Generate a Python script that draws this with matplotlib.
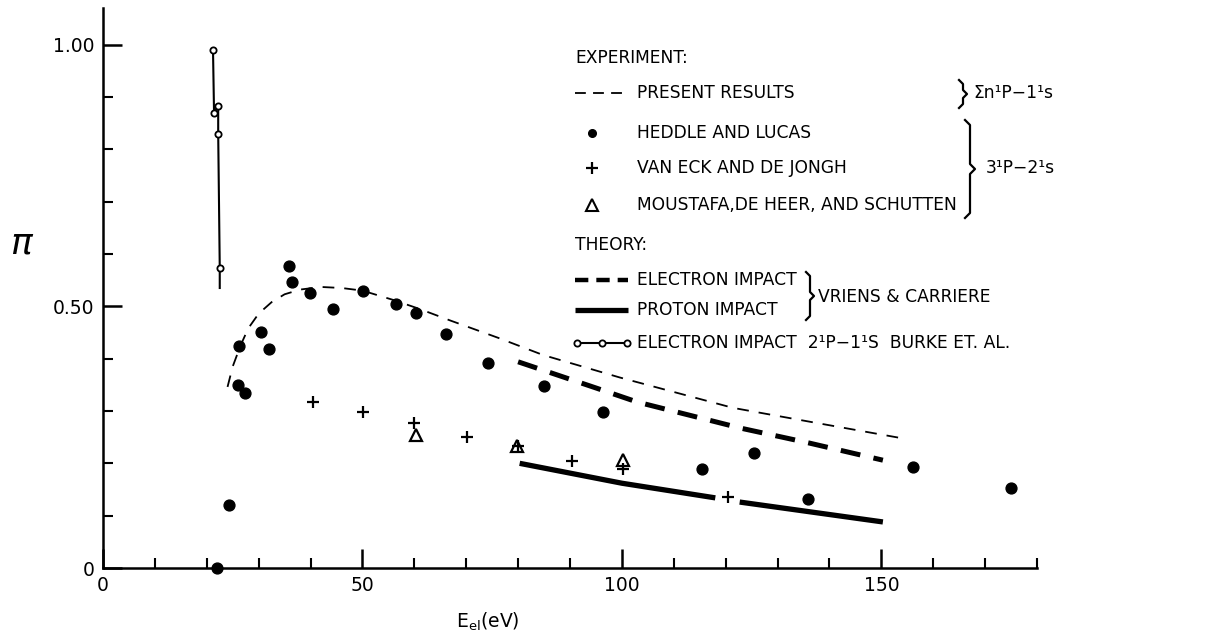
import matplotlib
matplotlib.use('Agg')
import matplotlib.pyplot as plt
import numpy as np

# --- data ---
# Heddle and Lucas (filled circles)
heddle_x = [22.0, 24.2, 26.0, 27.4, 26.2, 30.4, 31.9, 35.8, 36.4, 39.9, 44.3, 50.1, 56.4,
            60.3, 66.1, 74.2, 85.0, 96.3, 115.4, 125.4, 135.8, 156.1, 174.9]
heddle_y = [0.0, 0.12, 0.35, 0.335, 0.425, 0.451, 0.418, 0.577, 0.547, 0.526, 0.495, 0.53, 0.505,
            0.488, 0.447, 0.392, 0.348, 0.298, 0.19, 0.22, 0.132, 0.193, 0.153]

# Van Eck and de Jongh (crosses)
vaneck_x = [40.4, 50.1, 60.0, 70.1, 80.0, 90.4, 100.2, 120.4]
vaneck_y = [0.317, 0.298, 0.277, 0.25, 0.233, 0.205, 0.19, 0.136]

# Moustafa, de Heer and Schutten (open triangles)
moustafa_x = [60.3, 79.8, 100.2]
moustafa_y = [0.254, 0.233, 0.206]

# present results (thin dashed)
present_x = [24.0, 25.0, 26.5, 28.0, 30.0, 32.5, 35.0, 38.0, 42.0, 46.0, 50.0, 56.0, 61.0,
             66.9, 76.1, 84.8, 99.6, 121.4, 137.6, 154.5]
present_y = [0.346, 0.385, 0.425, 0.458, 0.486, 0.508, 0.523, 0.532, 0.537, 0.535, 0.53, 0.512,
             0.495, 0.473, 0.44, 0.407, 0.364, 0.306, 0.277, 0.247]

# theory: electron impact, Vriens & Carriere (thick dashed)
elec_x = [80.0, 95.0, 103.0, 123.0, 136.0, 150.3]
elec_y = [0.394, 0.344, 0.317, 0.267, 0.239, 0.206]

# theory: proton impact, Vriens & Carriere (thick solid, broken at the cross)
prot_x = [80.3, 100.0, 118.0, np.nan, 122.7, 150.3]
prot_y = [0.2, 0.162, 0.134, np.nan, 0.126, 0.088]

# theory: electron impact 2'P-1'S, Burke et al.
burke_x = [21.2, 21.4, 22.2, 22.2, 22.5]
burke_y = [0.99, 0.87, 0.883, 0.83, 0.574]
burke_tail_y = 0.535

W, H = 1217, 641
fig = plt.figure(figsize=(W / 100, H / 100), dpi=100)
ax = fig.add_axes([103 / W, 73 / H, 934 / W, 560 / H])

ax.plot(present_x, present_y, color='k', lw=1.3, dashes=(6.5, 5.5))
ax.plot(elec_x, elec_y, color='k', lw=3.6, dashes=(4, 2.7))
ax.plot(prot_x, prot_y, color='k', lw=3.8, solid_capstyle='butt')
ax.plot(burke_x + [burke_x[-1]], burke_y + [burke_tail_y], color='k', lw=1.5)
ax.plot(burke_x, burke_y, 'o', color='k', mfc='white', ms=4.5, mew=1.3)
ax.plot(heddle_x, heddle_y, 'o', color='k', ms=7.8, clip_on=False)
ax.plot(vaneck_x, vaneck_y, '+', color='k', ms=8, mew=1.6)
ax.plot(moustafa_x, moustafa_y, '^', color='k', mfc='none', ms=9, mew=1.6)

ax.set_xlim(0, 180)
ax.set_ylim(0, 1.07)
for s in ['top', 'right']:
    ax.spines[s].set_visible(False)
for s in ['left', 'bottom']:
    ax.spines[s].set_linewidth(1.8)

ax.set_xticks([0, 50, 100, 150])
ax.set_xticks(np.arange(0, 181, 10), minor=True)
ax.set_yticks([0, 0.5, 1.0])
ax.set_yticklabels(['0', '0.50', '1.00'])
ax.set_yticks(np.arange(0, 1.01, 0.1), minor=True)
ax.tick_params(which='major', direction='in', length=14, width=1.8, labelsize=13.5, pad=6)
ax.tick_params(which='minor', direction='in', length=7, width=1.5)

# overlay in pixel coordinates for the hand-lettered labels and legend
ov = fig.add_axes([0, 0, 1, 1])
ov.set_xlim(0, W)
ov.set_ylim(H, 0)
ov.axis('off')

ov.text(22, 243, r'$\pi$', fontsize=26, ha='center', va='center')
ov.text(488, 622, r'$\mathregular{E_{el}}$(eV)', fontsize=13.5, ha='center', va='center')

fs = 12.3
tx = 637


def brace(x, y0, y1, w):
    ym = (y0 + y1) / 2
    px = [x - w / 2, x, x, x + w / 2, x, x, x - w / 2]
    py = [y0, y0 + w / 2, ym - w / 2, ym, ym + w / 2, y1 - w / 2, y1]
    ov.plot(px, py, color='k', lw=1.6)


ov.text(575, 58, 'EXPERIMENT:', fontsize=fs, va='center')
ov.plot([575, 628], [93, 93], color='k', lw=1.3, dashes=(6, 4))
ov.text(tx, 93, 'PRESENT RESULTS', fontsize=fs, va='center')
brace(963, 80, 108, 8)
ov.text(973, 93, 'Σn¹P−1¹s', fontsize=fs, va='center')

ov.plot([592], [133], 'o', color='k', ms=5.5)
ov.text(tx, 133, 'HEDDLE AND LUCAS', fontsize=fs, va='center')
ov.plot([592], [168], '+', color='k', ms=8, mew=1.6)
ov.text(tx, 168, 'VAN ECK AND DE JONGH', fontsize=fs, va='center')
ov.plot([592], [205], '^', color='k', mfc='none', ms=8, mew=1.5)
ov.text(tx, 205, 'MOUSTAFA,DE HEER, AND SCHUTTEN', fontsize=fs, va='center')
brace(970, 120, 218, 10)
ov.text(986, 168, '3¹P−2¹s', fontsize=fs, va='center')

ov.text(575, 245, 'THEORY:', fontsize=fs, va='center')
ov.plot([575, 628], [280, 280], color='k', lw=3.2, dashes=(3, 1.8))
ov.text(tx, 280, 'ELECTRON IMPACT', fontsize=fs, va='center')
ov.plot([575, 628], [310, 310], color='k', lw=3.8, solid_capstyle='butt')
ov.text(tx, 310, 'PROTON IMPACT', fontsize=fs, va='center')
brace(810, 272, 320, 8)
ov.text(818, 297, 'VRIENS & CARRIERE', fontsize=fs, va='center')
ov.plot([577, 627], [343, 343], color='k', lw=1.5)
ov.plot([577, 602, 627], [343, 343, 343], 'o', color='k', mfc='white', ms=4.5, mew=1.3)
ov.text(tx, 343, 'ELECTRON IMPACT  2¹P−1¹S  BURKE ET. AL.', fontsize=fs, va='center')

fig.savefig('out.png', dpi=100)
